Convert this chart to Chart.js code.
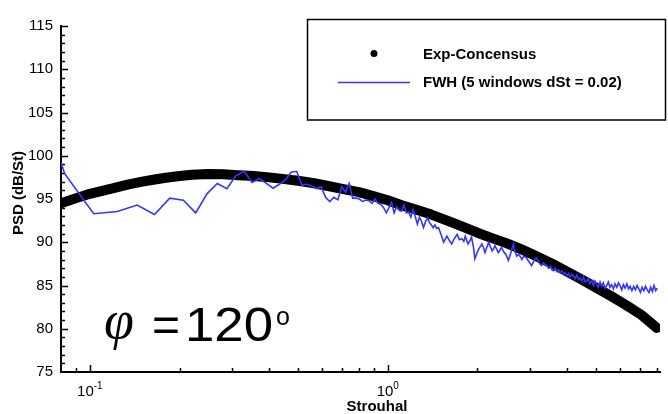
<!DOCTYPE html>
<html>
<head>
<meta charset="utf-8">
<script src="https://cdn.jsdelivr.net/npm/chart.js@4"></script>
<style>
  html, body { margin: 0; padding: 0; background: #fff; }
  #wrap { width: 668px; height: 414px; position: relative; }
</style>
</head>
<body>
<div id="wrap"><canvas id="psd" width="668" height="414"></canvas></div>
<script>
// Exp-Concensus (St, dB/St)
const expSt = [0.08, 0.09, 0.1, 0.11, 0.12, 0.135, 0.15, 0.165, 0.18, 0.2, 0.22, 0.25, 0.28, 0.315, 0.355,
  0.4, 0.45, 0.5, 0.56, 0.63, 0.71, 0.8, 0.9, 1.0, 1.12, 1.25, 1.4, 1.6, 1.8, 2.0, 2.25, 2.5, 2.8, 3.15,
  3.55, 4.0, 4.5, 5.0, 5.6, 6.3, 7.1, 8.0];
const expPsd = [94.5, 95.1, 95.6, 95.95, 96.25, 96.7, 97.0, 97.25, 97.45, 97.65, 97.8, 97.9, 97.85, 97.75, 97.65,
  97.5, 97.3, 97.1, 96.85, 96.5, 96.15, 95.8, 95.3, 94.85, 94.25, 93.75, 93.2, 92.45, 91.75, 91.1, 90.45, 89.9, 89.2, 88.4,
  87.55, 86.6, 85.65, 84.75, 83.8, 82.75, 81.6, 80.1];

// FWH (5 windows dSt = 0.02)
const fwhSt = [0.08, 0.0824, 0.103, 0.1236, 0.1442, 0.1648, 0.1854, 0.206, 0.2266, 0.2472, 0.2678, 0.2884, 0.309,
  0.3296, 0.3502, 0.3708, 0.3914, 0.412, 0.4326, 0.4532, 0.4738, 0.4944, 0.515, 0.5356, 0.5562, 0.5768, 0.5974,
  0.618, 0.6386, 0.6592, 0.6798, 0.7004, 0.721, 0.7416, 0.7622, 0.7828, 0.8034, 0.824, 0.8446, 0.8652, 0.8858,
  0.9064, 0.927, 0.9476, 0.9682, 0.9888, 1.0094, 1.03, 1.0506, 1.071, 1.092, 1.112, 1.133, 1.154, 1.174, 1.195,
  1.215, 1.236, 1.257, 1.277, 1.298, 1.318, 1.339, 1.36, 1.38, 1.40, 1.42, 1.44, 1.46, 1.48,
  1.52, 1.54, 1.58, 1.61, 1.64, 1.67, 1.71, 1.74, 1.77, 1.80, 1.82, 1.86, 1.89, 1.91, 1.94, 1.96, 1.99,
  2.02, 2.07, 2.10, 2.12, 2.15, 2.18, 2.21, 2.24, 2.27, 2.29, 2.32, 2.35, 2.38, 2.41, 2.45, 2.50, 2.54, 2.58,
  2.64, 2.67, 2.71, 2.75, 2.79, 2.82, 2.86, 2.92, 2.97, 3.00, 3.04, 3.08, 3.12, 3.16, 3.20, 3.24, 3.28, 3.33,
  3.38, 3.42, 3.47, 3.52, 3.56, 3.60, 3.65, 3.70, 3.75, 3.79, 3.84, 3.89, 3.94, 3.99, 4.05, 4.10, 4.15, 4.20,
  4.26, 4.31, 4.37, 4.42, 4.48, 4.54, 4.60, 4.65, 4.71, 4.77, 4.84, 4.90, 4.96, 5.02, 5.09, 5.16, 5.22, 5.29,
  5.36, 5.43, 5.50, 5.57, 5.64, 5.72, 5.79, 5.87, 5.95, 6.02, 6.10, 6.18, 6.26, 6.35, 6.43, 6.51, 6.60, 6.69,
  6.78, 6.87, 6.96, 7.05, 7.14, 7.24, 7.33, 7.43, 7.53, 7.63, 7.73, 7.83, 7.93, 8.03];
const fwhPsd = [99.2, 97.9, 93.3, 93.55, 94.3, 93.2, 95.1, 94.86, 93.4, 95.6, 96.8, 96.2, 97.67,
  98.2, 96.9, 97.37, 96.8, 96.25, 96.7, 97.2, 98.1, 98.2, 96.6, 96.7, 96.5, 96.2, 96.4,
  95.2, 94.7, 95.2, 94.9, 96.4, 95.8, 96.8, 95.1, 95.1, 95.0, 94.7, 94.9, 94.8, 94.5,
  95.0, 94.5, 94.4, 94.0, 93.4, 94.0, 94.6, 93.4, 94.1, 93.7, 93.6, 94.3, 93.4, 93.5, 92.9,
  93.8, 93.0, 92.1, 92.9, 92.4, 91.7, 92.4, 92.8, 92.3, 92.0, 91.7, 92.0, 91.6, 91.7,
  90.6, 90.0, 90.7, 90.2, 89.8, 90.4, 90.9, 90.3, 90.4, 90.1, 90.7, 89.8, 90.2, 90.6, 89.4, 88.1, 88.7,
  89.2, 89.8, 89.3, 88.8, 89.4, 90.0, 89.5, 89.0, 89.3, 89.6, 89.2, 88.8, 89.1, 89.4, 88.9, 88.5, 87.9, 88.6,
  89.8, 89.0, 88.4, 88.6, 88.3, 88.0, 88.4, 88.2, 87.8, 87.6, 87.3, 87.7, 88.0, 88.2, 87.8, 87.5, 87.3, 87.6,
  87.4, 87.3, 87.0, 87.2, 86.8, 86.7, 87.0, 86.6, 86.8, 86.5, 86.7, 86.3, 86.5, 86.1, 86.4, 86.0, 86.3, 86.1,
  85.8, 86.2, 85.7, 85.9, 85.5, 86.0, 85.4, 85.5, 85.8, 85.2, 85.6, 85.0, 85.5, 85.2, 84.8, 85.4, 84.9, 85.3,
  84.7, 85.0, 85.4, 84.8, 85.1, 84.6, 85.2, 84.8, 85.3, 85.0, 84.5, 85.1, 84.7, 85.2, 84.6, 84.9, 84.4, 84.9,
  84.5, 85.0, 84.6, 84.2, 84.8, 84.4, 84.9, 84.5, 84.2, 84.8, 84.3, 85.0, 84.4, 84.7];

// axes
const xMin = 0.08, xMax = 8.2;
const yMin = 75, yMax = 115;
const xMajorTicks = [0.1, 1];
const xMajorLabels = [['10', '-1'], ['10', '0']];

const FONT = '"Liberation Sans", Arial, Helvetica, sans-serif';

function pairs(xs, ys) {
  return xs.map((v, i) => ({ x: v, y: ys[i] }));
}

// inward ticks, tick labels, titles, legend box, annotation
const decor = {
  id: 'decor',
  beforeDatasetsDraw(chart) {
    const { ctx, chartArea: a, scales: { x, y } } = chart;
    ctx.save();
    ctx.strokeStyle = '#000';
    ctx.lineWidth = 1.5;
    ctx.beginPath();
    for (let e = -2; e <= 1; e++) {
      for (let m = 1; m <= 9; m++) {
        const v = m * Math.pow(10, e);
        if (v < xMin * 1.001 || v > xMax) continue;
        const px = Math.round(x.getPixelForValue(v)) + 0.5;
        const len = m === 1 ? 7 : 4;
        ctx.moveTo(px, a.bottom);
        ctx.lineTo(px, a.bottom - len);
      }
    }
    for (let v = yMin + 1; v <= yMax; v++) {
      const py = Math.round(y.getPixelForValue(v)) + 0.5;
      const len = v % 5 === 0 ? 7 : 4;
      ctx.moveTo(a.left, py);
      ctx.lineTo(a.left + len, py);
    }
    ctx.stroke();
    ctx.restore();
  },
  afterDraw(chart) {
    const { ctx, chartArea: a, scales: { x } } = chart;
    ctx.save();
    ctx.fillStyle = '#000';

    // x tick labels 10^n
    ctx.textBaseline = 'alphabetic';
    xMajorTicks.forEach((v, i) => {
      const [base, exp] = xMajorLabels[i];
      ctx.font = '15px ' + FONT;
      const wb = ctx.measureText(base).width;
      ctx.font = '10px ' + FONT;
      const we = ctx.measureText(exp).width;
      const left = x.getPixelForValue(v) - (wb + we) / 2;
      ctx.font = '15px ' + FONT;
      ctx.textAlign = 'left';
      ctx.fillText(base, left, 396);
      ctx.font = '10px ' + FONT;
      ctx.fillText(exp, left + wb, 389);
    });

    // axis titles
    ctx.font = 'bold 15px ' + FONT;
    ctx.textAlign = 'center';
    ctx.fillText('Strouhal', 377, 411);
    ctx.save();
    ctx.translate(23, 193);
    ctx.rotate(-Math.PI / 2);
    ctx.fillText('PSD (dB/St)', 0, 0);
    ctx.restore();

    // legend box
    ctx.strokeStyle = '#000';
    ctx.lineWidth = 1.5;
    ctx.strokeRect(307.5, 19.5, 358, 100.5);
    ctx.beginPath();
    ctx.arc(374, 53.5, 3.5, 0, Math.PI * 2);
    ctx.fill();
    ctx.strokeStyle = '#3535ff';
    ctx.lineWidth = 1.5;
    ctx.beginPath();
    ctx.moveTo(338, 82.5);
    ctx.lineTo(410, 82.5);
    ctx.stroke();
    ctx.font = 'bold 15px ' + FONT;
    ctx.textAlign = 'left';
    ctx.textBaseline = 'middle';
    ctx.fillText('Exp-Concensus', 423, 55);
    ctx.fillText('FWH (5 windows dSt = 0.02)', 423, 83);

    // angle annotation
    ctx.textBaseline = 'alphabetic';
    ctx.font = 'italic 54px "Liberation Serif", "Times New Roman", serif';
    ctx.fillText('\u03C6', 104, 338);
    ctx.font = '48px ' + FONT;
    ctx.fillText('=', 152, 341);
    ctx.save();
    ctx.translate(185, 341);
    ctx.scale(1.1, 1);
    ctx.fillText('120', 0, 0);
    ctx.restore();
    ctx.font = '25px ' + FONT;
    ctx.fillText('o', 276, 325);
    ctx.restore();
  }
};

const ctx = document.getElementById('psd').getContext('2d');
new Chart(ctx, {
  type: 'scatter',
  data: {
    datasets: [
      {
        label: 'Exp-Concensus',
        data: pairs(expSt, expPsd),
        showLine: true,
        borderColor: '#000',
        borderWidth: 10,
        borderCapStyle: 'round',
        borderJoinStyle: 'round',
        pointRadius: 0,
        order: 2
      },
      {
        label: 'FWH (5 windows dSt = 0.02)',
        data: pairs(fwhSt, fwhPsd),
        showLine: true,
        borderColor: '#3535ff',
        borderWidth: 1.6,
        pointRadius: 0,
        order: 1
      }
    ]
  },
  options: {
    responsive: false,
    animation: false,
    events: [],
    layout: { padding: { top: 26, right: 8, left: 0, bottom: 0 } },
    plugins: { legend: { display: false }, tooltip: { enabled: false } },
    scales: {
      x: {
        type: 'logarithmic',
        min: xMin,
        max: xMax,
        grid: { display: false, drawTicks: false },
        border: { display: true, color: '#000', width: 2 },
        ticks: { display: false },
        afterFit: (s) => { s.height = 42; }
      },
      y: {
        min: yMin,
        max: yMax,
        grid: { display: false, drawTicks: false },
        border: { display: true, color: '#000', width: 2 },
        ticks: {
          stepSize: 5,
          padding: 8,
          color: '#000',
          font: { family: FONT, size: 15 }
        },
        afterFit: (s) => { s.width = 61; }
      }
    }
  },
  plugins: [decor]
});
</script>
</body>
</html>
